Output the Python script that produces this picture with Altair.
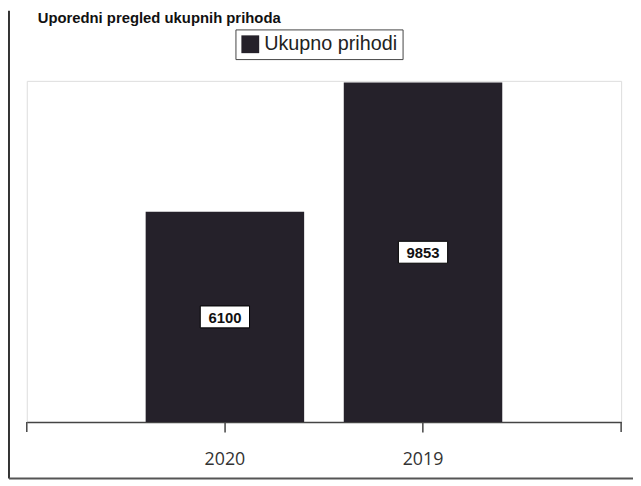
import altair as alt
import pandas as pd

years = ["2020", "2019"]
values = [6100, 9853]
series_name = "Ukupno prihodi"
title_text = "Uporedni pregled ukupnih prihoda"

W, H = 601, 345
BAR_COLOR = "#25212a"

df = pd.DataFrame({"year": years, "value": values, "series": [series_name] * len(years)})
one = pd.DataFrame({"t": [title_text]})

x = alt.X(
    "year:N",
    sort=years,
    scale=alt.Scale(paddingInner=0.2, paddingOuter=0.6),
    axis=alt.Axis(
        title=None, labelAngle=0, tickSize=10, labelPadding=19,
        labelFontSize=18, labelFont="Open Sans", labelColor="#333",
        domainColor="#444", tickColor="#444", domainWidth=1.5, tickWidth=1.5,
        grid=False,
    ),
)
yscale = alt.Scale(domain=[0, 9900], nice=False)

base = alt.Chart(df)

bars = base.mark_bar().encode(
    x=x,
    y=alt.Y("value:Q", scale=yscale, axis=None),
    color=alt.Color(
        "series:N",
        scale=alt.Scale(domain=[series_name], range=[BAR_COLOR]),
        legend=alt.Legend(
            title=None, orient="none", legendX=211, legendY=-52,
            symbolType="square", symbolSize=324, symbolStrokeWidth=0,
            labelFontSize=20, labelFont="Liberation Sans", labelColor="#222",
            strokeColor="#444", padding=5, labelOffset=4,
        ),
    ),
)

mid = base.transform_calculate(mid="datum.value / 2")

boxes = mid.mark_point(
    shape="M-2.25,-1H2.25V1H-2.25Z", size=490, filled=True,
    fill="white", stroke="black", strokeWidth=1, opacity=1,
).encode(x=x, y=alt.Y("mid:Q", scale=yscale, axis=None))

labels = mid.mark_text(
    fontSize=15, font="Liberation Sans", fontWeight="bold", color="#111",
    baseline="middle", dy=1,
).encode(
    x=x,
    y=alt.Y("mid:Q", scale=yscale, axis=None),
    text=alt.Text("value:Q", format="d"),
)

frame = alt.Chart(one)
end_ticks_l = frame.mark_rule(color="#444", strokeWidth=1.5).encode(
    x=alt.value(0), y=alt.value(H), y2=alt.value(H + 10))
end_ticks_r = frame.mark_rule(color="#444", strokeWidth=1.5).encode(
    x=alt.value(W), y=alt.value(H), y2=alt.value(H + 10))
left_frame = frame.mark_rule(color="#333", strokeWidth=2).encode(
    x=alt.value(-18), y=alt.value(-71), y2=alt.value(H + 57))
bottom_frame = frame.mark_rule(color="#555", strokeWidth=2).encode(
    x=alt.value(-18), x2=alt.value(W + 12), y=alt.value(H + 57))

title = frame.mark_text(
    align="left", baseline="alphabetic", fontSize=15, fontWeight="bold",
    font="Liberation Sans", color="#111",
).encode(text="t:N", x=alt.value(11), y=alt.value(-58))

chart = alt.layer(
    bars, boxes, labels, end_ticks_l, end_ticks_r, left_frame, bottom_frame, title
).properties(
    width=W, height=H,
    padding={"left": 19, "top": 71, "right": 12, "bottom": 60},
    autosize=alt.AutoSizeParams(type="none"),
).configure_view(
    stroke="#555", strokeWidth=1.5
).configure(background="white")

chart.save("out.html", embed_options={"renderer": "svg", "actions": False})
